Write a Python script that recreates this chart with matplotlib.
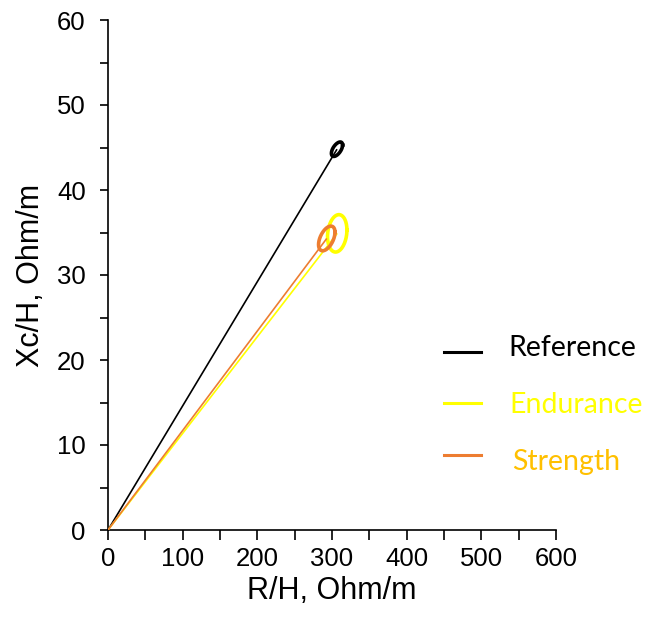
import numpy as np
import matplotlib
matplotlib.use("Agg")
import matplotlib.pyplot as plt
from matplotlib.ticker import MultipleLocator

# mean vectors (R/H, Xc/H) and tolerance ellipses
groups = ["Reference", "Endurance", "Strength"]
mean_r = [306.7, 307.0, 293.0]
mean_xc = [44.8, 34.9, 34.3]
sd_r = [7.5, 13.0, 11.0]
sd_xc = [0.85, 2.2, 1.45]
phase_deg = [55, 80, 60]

line_colors = ["#000000", "#FFFF00", "#ED7D31"]
text_colors = ["#000000", "#FFFF00", "#FFC000"]

plt.rcParams['font.family'] = ['Liberation Sans', 'DejaVu Sans']

fig = plt.figure(figsize=(6.52, 6.24), dpi=100)
ax = fig.add_axes([108 / 652, 1 - 530 / 624, 448 / 652, 510 / 624])

t = np.linspace(0, 2 * np.pi, 200)
for i in range(len(groups)):
    ax.plot([0, mean_r[i]], [0, mean_xc[i]], color=line_colors[i], lw=1.2,
            solid_capstyle='butt', zorder=3)
    d = np.deg2rad(phase_deg[i])
    ex = mean_r[i] + sd_r[i] * np.cos(t)
    ey = mean_xc[i] + sd_xc[i] * np.cos(t - d)
    ax.plot(ex, ey, color=line_colors[i], lw=2.6, zorder=3)

ax.set_xlim(0, 600)
ax.set_ylim(0, 60)
ax.xaxis.set_major_locator(MultipleLocator(100))
ax.xaxis.set_minor_locator(MultipleLocator(50))
ax.yaxis.set_major_locator(MultipleLocator(10))
ax.yaxis.set_minor_locator(MultipleLocator(5))
ax.tick_params(which='both', direction='out', length=6, width=1.2, labelsize=18.5)
ax.tick_params(axis='x', which='both', length=7, pad=5)
ax.tick_params(axis='y', pad=10)
ax.spines['top'].set_visible(False)
ax.spines['right'].set_visible(False)
for s in ['left', 'bottom']:
    ax.spines[s].set_linewidth(1.2)

ax.set_xlabel("R/H, Ohm/m", fontsize=22, labelpad=4)
ax.set_ylabel("Xc/H, Ohm/m", fontsize=22, labelpad=8)

# legend drawn by hand
leg_y = [0.436, 0.354, 0.271]
text_y = [0.442, 0.351, 0.260]
text_x = [0.779, 0.782, 0.786]
for i in range(len(groups)):
    fig.add_artist(plt.Line2D([0.681, 0.738], [leg_y[i], leg_y[i]],
                              color=line_colors[i], lw=2.2,
                              transform=fig.transFigure))
    fig.text(text_x[i], text_y[i], groups[i], color=text_colors[i],
             fontsize=20.5, family=['Lato', 'DejaVu Sans'], va='center')

fig.savefig("out.png", dpi=100)
